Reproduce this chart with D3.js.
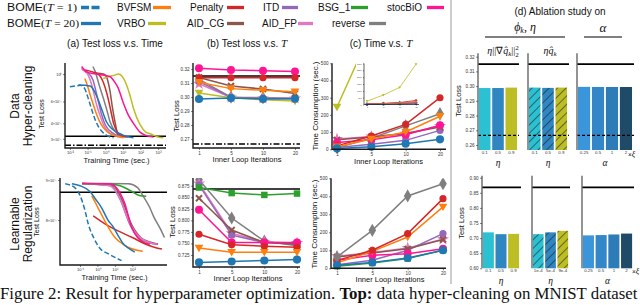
<!DOCTYPE html>
<html><head><meta charset="utf-8">
<script src="https://cdn.jsdelivr.net/npm/d3@7/dist/d3.min.js"></script>
<style>html,body{margin:0;padding:0;background:#fff;}svg{display:block;}</style>
</head><body>
<script>
// ================= DATA =================
const iterT = [1, 5, 10, 20];
const iterLabels = ["1", "5", "10", "20"];

// --- Data hyper-cleaning: test loss vs T ---
const hcLossBOME    = [0.2986, 0.2993, 0.2986, 0.2988];
const hcLossBVFSM   = [0.3105, 0.3060, 0.3048, 0.3038];
const hcLossVRBO    = [0.3029, 0.2995, 0.2980, 0.2972];
const hcLossPenalty = [0.3138, 0.3138, 0.3138, 0.3138];
const hcLossAIDCG   = [0.3140, 0.3079, 0.3057, 0.3026];
const hcLossITD     = [0.3110, 0.2998, 0.2990, 0.2990];
const hcLossAIDFP   = [0.3095, 0.2996, 0.2990, 0.2990];
const hcLossStocBiO = [0.3205, 0.3193, 0.3188, 0.3182];
const hcLossReverse = [0.3126, 0.2999, 0.2995, 0.2992];

// --- Data hyper-cleaning: time vs T ---
const hcTimeBOME    = [5, 15, 32, 58];
const hcTimeBVFSM   = [15, 60, 101, 192];
const hcTimeVRBO    = [246, 690, 1250, 2950];
const hcTimePenalty = [20, 77, 145, 300];
const hcTimeAIDCG   = [55, 72, 92, 130];
const hcTimeITD     = [10, 30, 52, 110];
const hcTimeAIDFP   = [60, 75, 90, 135];
const hcTimeStocBiO = [39, 56, 85, 140];
const hcTimeReverse = [10, 64, 136, 207];

// --- Learnable regularization: test loss vs T ---
const lrLossBOME    = [0.709, 0.711, 0.713, 0.715];
const lrLossBVFSM   = [0.740, 0.731, 0.731, 0.731];
const lrLossPenalty = [0.770, 0.747, 0.744, 0.742];
const lrLossAIDCG   = [0.848, 0.779, 0.752, 0.748];
const lrLossITD     = [0.877, 0.768, 0.752, 0.750];
const lrLossAIDFP   = [0.880, 0.772, 0.753, 0.751];
const lrLossBSG     = [0.871, 0.859, 0.855, 0.858];
const lrLossStocBiO = [0.823, 0.752, 0.752, 0.752];
const lrLossReverse = [0.888, 0.805, 0.755, 0.745];

// --- Learnable regularization: time vs T ---
const lrTimeBOME    = [17, 32, 57, 100];
const lrTimeBVFSM   = [30, 94, 174, 341];
const lrTimePenalty = [44, 100, 193, 387];
const lrTimeAIDCG   = [63, 85, 108, 160];
const lrTimeITD     = [20, 45, 100, 193];
const lrTimeAIDFP   = [67, 88, 113, 161];
const lrTimeBSG     = [12, 30, 55, 100];
const lrTimeStocBiO = [44, 72, 81, 109];
const lrTimeReverse = [63, 211, 402, 470];

// --- Test loss vs training time curves [time (s), loss] ---
const hcCurveBOME1   = [[0.01,0.79],[0.02,0.80],[0.04,0.81],[0.07,0.76],[0.1,0.66],[0.15,0.55],[0.25,0.44],[0.4,0.38],[0.7,0.34],[1.5,0.315],[3,0.306]];
const hcCurveBOME20  = [[0.03,0.815],[0.08,0.81],[0.14,0.80],[0.25,0.72],[0.4,0.62],[0.7,0.5],[1.2,0.41],[2.5,0.36],[7,0.33],[15,0.315],[40,0.306]];
const hcCurveBVFSM   = [[0.07,0.92],[0.1,0.8],[0.14,0.68],[0.2,0.58],[0.33,0.47],[0.6,0.39],[1.2,0.345],[3,0.32],[11,0.306]];
const hcCurveAIDFP   = [[0.045,1.11],[0.07,1.05],[0.1,1.0],[0.18,0.8],[0.33,0.56],[0.55,0.45],[0.8,0.39],[2,0.33],[7,0.31]];
const hcCurveITD     = [[0.05,1.08],[0.1,1.03],[0.2,0.9],[0.35,0.66],[0.6,0.48],[1,0.39],[3,0.33],[10,0.31]];
const hcCurveReverse = [[0.2,1.15],[0.27,1.05],[0.45,0.82],[0.78,0.64],[1.3,0.5],[1.9,0.41],[4,0.34],[7,0.32],[15,0.31]];
const hcCurveAIDCG   = [[0.3,1.02],[0.8,1.0],[1.2,0.95],[1.5,0.85],[1.9,0.72],[2.5,0.55],[3.6,0.41],[4.5,0.35],[5.5,0.31]];
const hcCurvePenalty = [[0.07,1.08],[0.15,1.05],[0.4,1.0],[0.8,0.85],[1.3,0.68],[2,0.52],[3,0.4],[5,0.34],[10,0.315],[20,0.31]];
const hcCurveStocBiO = [[0.046,1.15],[0.09,1.04],[0.2,1.01],[0.5,0.99],[1.9,0.95],[3.5,0.86],[5.5,0.77],[10,0.6],[20,0.47],[40,0.4],[95,0.34],[200,0.32],[540,0.31]];
const hcCurveVRBO    = [[0.78,0.92],[1.8,0.96],[3.6,0.98],[5.5,1.0],[9,0.96],[13.5,0.87],[25,0.68],[40,0.53],[95,0.39],[200,0.34],[355,0.33],[1000,0.31],[2000,0.306]];

const lrCurveBOME1   = [[0.014,0.89],[0.05,0.88],[0.1,0.86],[0.2,0.82],[0.3,0.79],[0.6,0.76],[1.4,0.736],[4,0.725],[10,0.717],[24,0.71]];
const lrCurveBOME20  = [[0.034,0.89],[0.1,0.885],[0.37,0.87],[0.8,0.85],[1.7,0.83],[4,0.80],[8,0.784],[15,0.765],[30,0.746],[70,0.735],[138,0.728]];
const lrCurveBVFSM   = [[0.47,0.859],[0.8,0.84],[1.4,0.82],[2.5,0.8],[5.1,0.777],[10,0.76],[19.5,0.75],[60,0.738],[400,0.73]];
const lrCurvePenalty = [[0.57,0.81],[3,0.79],[15,0.775],[100,0.76],[600,0.745],[2500,0.737],[5000,0.735]];
const lrCurveBSG     = [[0.13,0.891],[3,0.89],[20,0.885],[80,0.872],[250,0.86],[630,0.858]];
const lrCurveStocBiO = [[0.13,0.891],[5,0.89],[15,0.875],[37,0.84],[90,0.784],[200,0.76],[400,0.75],[1000,0.745]];
const lrCurveITD     = [[0.13,0.891],[6,0.885],[20,0.85],[72,0.79],[270,0.757],[1000,0.748],[3000,0.745]];
const lrCurveAIDFP   = [[0.13,0.891],[5,0.885],[18,0.855],[60,0.8],[200,0.765],[800,0.75],[2500,0.745]];
const lrCurveAIDCG   = [[0.13,0.891],[8,0.885],[25,0.85],[90,0.79],[300,0.76],[1000,0.75],[3000,0.745]];
const lrCurveReverse = [[0.13,0.891],[60,0.89],[200,0.88],[400,0.86],[1000,0.83],[1600,0.81],[4000,0.78],[7000,0.76]];

// reference lines
const hcBestLoss = 0.315, hcOptLoss = 0.2665, lrBestLoss = 0.868;

// axis ticks
const hcTimeTicks = [0.01, 0.1, 1, 10, 100, 1000];
const hcTimeTickLabels = ["10⁻²", "10⁻¹", "10⁰", "10¹", "10²", "10³"];
const hcLogLossTicks = [1, 0.6, 0.4, 0.3];
const hcLogLossTickLabels = ["10⁰", "6×10⁻¹", "4×10⁻¹", "3×10⁻¹"];
const lrTimeTicks = [0.1, 1, 10, 100];
const lrTimeTickLabels = ["10⁻¹", "10⁰", "10¹", "10²"];
const lrLogLossTicks = [0.9, 0.8];
const lrLogLossTickLabels = ["9×10⁻¹", "8×10⁻¹"];
const hcLossTicks = [0.27, 0.28, 0.29, 0.30, 0.31, 0.32];
const lrLossTicks = [0.725, 0.75, 0.775, 0.8, 0.825, 0.85, 0.875];
const timeTicks = [0, 100, 200, 300, 400, 500];
const insetTicks = [0, 500, 1000, 1500, 2000, 2500, 3000];

// ablation study
const ablEtaLabels = ["0.1", "0.5", "0.9"];
const ablEtaSmallLabels = ["1e-4", "5e-4", "9e-4"];
const ablAlphaLabels = ["0.25", "0.5", "1", "2"];
const hcAblGrad  = [0.2987, 0.2987, 0.2990];
const hcAblQ     = [0.2990, 0.2988, 0.2990];
const hcAblAlpha = [0.2995, 0.2994, 0.2994, 0.2994];
const lrAblGrad  = [0.719, 0.713, 0.714];
const lrAblQ     = [0.713, 0.719, 0.724];
const lrAblAlpha = [0.709, 0.710, 0.712, 0.715];
const hcAblTicks = [0.26, 0.27, 0.28, 0.29, 0.30, 0.31, 0.32];
const lrAblTicks = [0.60, 0.65, 0.70, 0.75, 0.80, 0.85, 0.90];

// ================= STYLE =================
const SANS = "'Liberation Sans', Arial, Helvetica, sans-serif";
const SERIF = "'Liberation Serif', 'Times New Roman', serif";
const C = {BOME:"#1f77b4", BVFSM:"#ff7f0e", VRBO:"#bcbd22", Penalty:"#d62728", AID_CG:"#8c564b",
           ITD:"#9467bd", AID_FP:"#e377c2", BSG_1:"#2ca02c", stocBiO:"#ff1493", reverse:"#7f7f7f"};
const SPINE = "#1a1a1a";
const triDown = {draw(ctx, size){ const s=Math.sqrt(size)*0.62; ctx.moveTo(-s,-s*0.75); ctx.lineTo(s,-s*0.75); ctx.lineTo(0,s*0.95); ctx.closePath(); }};
const xShape = {draw(ctx, size){ const r=Math.sqrt(size)*0.5, w=r*0.38;
  const pts=[[-r,-r+w],[-r+w,-r],[0,-w],[r-w,-r],[r,-r+w],[w,0],[r,r-w],[r-w,r],[0,w],[-r+w,r],[-r,r-w],[-w,0]];
  ctx.moveTo(pts[0][0],pts[0][1]); pts.slice(1).forEach(p=>ctx.lineTo(p[0],p[1])); ctx.closePath(); }};
const SYM = {BOME:d3.symbolCircle, BVFSM:triDown, VRBO:triDown, Penalty:d3.symbolCircle, AID_CG:xShape,
             ITD:d3.symbolCircle, AID_FP:d3.symbolStar, BSG_1:d3.symbolSquare, stocBiO:d3.symbolCircle, reverse:d3.symbolDiamond};
const SYMSIZE = {BOME:52, BVFSM:50, VRBO:50, Penalty:40, AID_CG:55, ITD:40, AID_FP:46, BSG_1:42, stocBiO:50, reverse:50};

const svg = d3.select("body").append("svg").attr("width", 640).attr("height", 305);
const defs = svg.append("defs");
let clipN = 0;
function clip(x0, y0, x1, y1){ const id = "cp" + (clipN++);
  defs.append("clipPath").attr("id", id).append("rect").attr("x", x0).attr("y", y0).attr("width", x1 - x0).attr("height", y1 - y0);
  return `url(#${id})`; }

function txt(g, x, y, s, fs, opt = {}){
  const t = g.append("text").attr("x", x).attr("y", y).attr("font-size", fs)
    .attr("font-family", opt.family || SANS).attr("fill", opt.fill || "#111")
    .attr("text-anchor", opt.anchor || "start").text(s);
  if (opt.rotate) t.attr("transform", `rotate(-90,${x},${y})`);
  if (opt.italic) t.attr("font-style", "italic");
  if (opt.weight) t.attr("font-weight", opt.weight);
  return t;
}
function spines(g, x0, x1, y0, y1, w = 1.4, color = SPINE){
  g.append("path").attr("d", `M${x0},${y0}V${y1}H${x1}`).attr("fill", "none").attr("stroke", color).attr("stroke-width", w);
}
function styleAxis(ag, fs){
  ag.select(".domain").remove();
  ag.selectAll("text").attr("font-size", fs).attr("font-family", SANS).attr("fill", "#333");
  ag.selectAll("line").attr("stroke", "#333").attr("stroke-width", 0.6);
}
function axisLeft(g, scale, x, vals, fmt, fs = 4.6, size = 2){
  const ag = g.append("g").attr("transform", `translate(${x},0)`)
    .call(d3.axisLeft(scale).tickValues(vals).tickFormat(fmt).tickSize(size).tickPadding(1.5));
  styleAxis(ag, fs); return ag;
}
function axisBottom(g, scale, y, vals, fmt, fs = 4.6, size = 2, pad = 1.5){
  const ag = g.append("g").attr("transform", `translate(0,${y})`)
    .call(d3.axisBottom(scale).tickValues(vals).tickFormat(fmt).tickSize(size).tickPadding(pad));
  styleAxis(ag, fs); return ag;
}

// ================= LEGEND =================
(function legend(){
  const g = svg.append("g");
  function entry(x, y, label, color, sx0, sx1, dashed, mathPart, fitW){
    const t = txt(g, x, y, label, 10);
    if (mathPart){
      t.append("tspan").attr("font-family", SERIF).text("(");
      t.append("tspan").attr("font-family", SERIF).attr("font-style", "italic").text("T");
      t.append("tspan").attr("font-family", SERIF).text(" = " + mathPart + ")");
      t.attr("textLength", fitW).attr("lengthAdjust", "spacingAndGlyphs");
    }
    const l = g.append("line").attr("x1", sx0).attr("x2", sx1).attr("y1", y - 3.5).attr("y2", y - 3.5)
      .attr("stroke", color).attr("stroke-width", 3.3);
    if (dashed) l.attr("stroke-dasharray", "8,2.5");
  }
  entry(7, 11, "BOME", C.BOME, 81, 101, true, "1", 70);
  entry(7, 27, "BOME", C.BOME, 81, 101, false, "20", 72);
  entry(117, 11, "BVFSM", C.BVFSM, 153, 171);
  entry(117, 27, "VRBO", C.VRBO, 148, 166);
  entry(190, 11, "Penalty", C.Penalty, 227, 244);
  entry(187, 27, "AID_CG", C.AID_CG, 227, 244);
  entry(263, 11, "ITD", C.ITD, 282, 298);
  entry(262, 27, "AID_FP", C.AID_FP, 298, 313);
  entry(318, 11, "BSG_1", C.BSG_1, 351, 368);
  entry(332, 27, "reverse", C.reverse, 369, 386);
  entry(387, 11, "stocBiO", C.stocBiO, 427, 444);

  txt(g, 115, 47, "(a) Test loss v.s. Time", 10, {anchor: "middle"});
  const tb = txt(g, 247, 47, "(b) Test loss v.s. ", 10, {anchor: "middle"});
  tb.append("tspan").attr("font-family", SERIF).attr("font-style", "italic").attr("font-size", 11).text("T");
  const tc = txt(g, 381, 47, "(c) Time v.s. ", 10, {anchor: "middle"});
  tc.append("tspan").attr("font-family", SERIF).attr("font-style", "italic").attr("font-size", 11).text("T");
})();

// row labels
function rowLabel(cy, l1, l2){
  const t = svg.append("text").attr("transform", `translate(19,${cy}) rotate(-90)`)
    .attr("text-anchor", "middle").attr("font-family", SANS).attr("font-size", 12).attr("fill", "#111");
  t.append("tspan").attr("x", 0).attr("y", 0).text(l1);
  t.append("tspan").attr("x", 0).attr("y", 13).text(l2);
}
rowLabel(106, "Data", "Hyper-cleaning");
rowLabel(224, "Learnable", "Regularization");

// ================= (a) loss vs time =================
function timePanel(p){
  const g = svg.append("g");
  const x = d3.scaleLog().domain(p.xDom).range([p.x0, p.x1]);
  const y = d3.scaleLog().domain(p.yDom).range([p.y1, p.y0]);
  const cp = clip(p.x0, p.y0 - 3, p.x1 + 1, p.y1);
  const inner = g.append("g").attr("clip-path", cp);
  inner.append("line").attr("x1", p.x0).attr("x2", p.x1).attr("y1", y(p.best)).attr("y2", y(p.best))
    .attr("stroke", "#000").attr("stroke-width", 1.6);
  if (p.opt) inner.append("line").attr("x1", p.x0).attr("x2", p.x1).attr("y1", y(p.opt)).attr("y2", y(p.opt))
    .attr("stroke", "#000").attr("stroke-width", 1.6).attr("stroke-dasharray", "6,2,1.5,2");
  const line = d3.line().x(d => x(d[0])).y(d => y(d[1])).curve(d3.curveMonotoneX);
  p.curves.forEach(c => {
    const path = inner.append("path").datum(c.pts).attr("d", line).attr("fill", "none")
      .attr("stroke", c.color).attr("stroke-width", 1.5).attr("stroke-linejoin", "round");
    if (c.dashed) path.attr("stroke-dasharray", "5,2.5");
  });
  axisBottom(g, x, p.y1, p.xTicks, (d, i) => p.xLabels[i], 4.2);
  axisLeft(g, y, p.x0, p.yTicks, (d, i) => p.yLabels[i], 3.8);
  spines(g, p.x0, p.x1, p.y0, p.y1);
  txt(g, (p.x0 + p.x1) / 2 + 1, p.xlabY, "Training Time (sec.)", 7.5, {anchor: "middle"});
  txt(g, p.ylabX, p.ylabY, "Test Loss", 7, {anchor: "middle", rotate: true});
}

timePanel({x0: 65, x1: 166, y0: 63, y1: 148, xDom: [Math.pow(10, -2.28), Math.pow(10, 3.45)], yDom: [0.253, 1.227],
  best: hcBestLoss, opt: hcOptLoss, xTicks: hcTimeTicks, xLabels: hcTimeTickLabels,
  yTicks: hcLogLossTicks, yLabels: hcLogLossTickLabels, xlabY: 163, ylabX: 44, ylabY: 114,
  curves: [
    {pts: hcCurveReverse, color: C.reverse}, {pts: hcCurveAIDCG, color: C.AID_CG},
    {pts: hcCurveITD, color: C.ITD}, {pts: hcCurveAIDFP, color: C.AID_FP},
    {pts: hcCurvePenalty, color: C.Penalty}, {pts: hcCurveVRBO, color: C.VRBO},
    {pts: hcCurveStocBiO, color: C.stocBiO}, {pts: hcCurveBVFSM, color: C.BVFSM},
    {pts: hcCurveBOME20, color: C.BOME}, {pts: hcCurveBOME1, color: C.BOME, dashed: true}]});

timePanel({x0: 60, x1: 167, y0: 178, y1: 265, xDom: [Math.pow(10, -2.15), Math.pow(10, 3.99)], yDom: [0.701, 0.9053],
  best: lrBestLoss, xTicks: lrTimeTicks, xLabels: lrTimeTickLabels,
  yTicks: lrLogLossTicks, yLabels: lrLogLossTickLabels, xlabY: 280, ylabX: 39, ylabY: 222,
  curves: [
    {pts: lrCurveReverse, color: C.reverse}, {pts: lrCurveAIDCG, color: C.AID_CG},
    {pts: lrCurveITD, color: C.ITD}, {pts: lrCurveAIDFP, color: C.AID_FP},
    {pts: lrCurveBSG, color: C.BSG_1}, {pts: lrCurveStocBiO, color: C.stocBiO},
    {pts: lrCurvePenalty, color: C.Penalty}, {pts: lrCurveBVFSM, color: C.BVFSM},
    {pts: lrCurveBOME20, color: C.BOME}, {pts: lrCurveBOME1, color: C.BOME, dashed: true}]});

// ================= (b)/(c) vs T =================
function iterPanel(p){
  const g = svg.append("g");
  const x = d3.scalePoint().domain(iterT).range([p.px0, p.px1]);
  const y = d3.scaleLinear().domain(p.yDom).range([p.y1, p.y0]);
  const inner = g.append("g").attr("clip-path", clip(p.x0, p.y0, p.x1 + 6, p.y1 + 6));
  if (p.best != null) inner.append("line").attr("x1", p.x0).attr("x2", p.x1).attr("y1", y(p.best)).attr("y2", y(p.best))
    .attr("stroke", "#000").attr("stroke-width", 1.6);
  if (p.opt != null) inner.append("line").attr("x1", p.x0).attr("x2", p.x1).attr("y1", y(p.opt)).attr("y2", y(p.opt))
    .attr("stroke", "#000").attr("stroke-width", 1.6).attr("stroke-dasharray", "6,2,1.5,2");
  const line = d3.line().x((d, i) => x(iterT[i])).y(d => y(d));
  p.series.forEach(s => {
    inner.append("path").datum(s.vals).attr("d", line).attr("fill", "none").attr("stroke", C[s.name]).attr("stroke-width", 1.5);
    inner.selectAll(null).data(s.vals).join("path")
      .attr("transform", (d, i) => `translate(${x(iterT[i])},${y(d)})`)
      .attr("d", d3.symbol(SYM[s.name], SYMSIZE[s.name] * (p.msc || 1))).attr("fill", C[s.name]);
  });
  axisBottom(g, x, p.y1, iterT, (d, i) => iterLabels[i], 4.6);
  axisLeft(g, y, p.x0, p.yTicks, p.yFmt, 4.6);
  spines(g, p.x0, p.x1, p.y0, p.y1);
  txt(g, (p.px0 + p.px1) / 2, p.xlabY, "Inner Loop Iterations", 7.5, {anchor: "middle"});
  txt(g, p.ylabX, p.ylabY, p.ylab, p.ylabFs, {anchor: "middle", rotate: true});
  return {g, x, y};
}

const hcLossSeries = [
  {name: "reverse", vals: hcLossReverse}, {name: "AID_FP", vals: hcLossAIDFP}, {name: "ITD", vals: hcLossITD},
  {name: "AID_CG", vals: hcLossAIDCG}, {name: "stocBiO", vals: hcLossStocBiO}, {name: "Penalty", vals: hcLossPenalty},
  {name: "VRBO", vals: hcLossVRBO}, {name: "BVFSM", vals: hcLossBVFSM}, {name: "BOME", vals: hcLossBOME}];
const hcTimeSeries = [
  {name: "reverse", vals: hcTimeReverse}, {name: "AID_FP", vals: hcTimeAIDFP}, {name: "ITD", vals: hcTimeITD},
  {name: "AID_CG", vals: hcTimeAIDCG}, {name: "stocBiO", vals: hcTimeStocBiO}, {name: "Penalty", vals: hcTimePenalty},
  {name: "VRBO", vals: hcTimeVRBO}, {name: "BVFSM", vals: hcTimeBVFSM}, {name: "BOME", vals: hcTimeBOME}];
const lrLossSeries = [
  {name: "reverse", vals: lrLossReverse}, {name: "AID_FP", vals: lrLossAIDFP}, {name: "ITD", vals: lrLossITD},
  {name: "AID_CG", vals: lrLossAIDCG}, {name: "stocBiO", vals: lrLossStocBiO}, {name: "Penalty", vals: lrLossPenalty},
  {name: "BVFSM", vals: lrLossBVFSM}, {name: "BSG_1", vals: lrLossBSG}, {name: "BOME", vals: lrLossBOME}];
const lrTimeSeries = [
  {name: "AID_FP", vals: lrTimeAIDFP}, {name: "ITD", vals: lrTimeITD}, {name: "AID_CG", vals: lrTimeAIDCG},
  {name: "stocBiO", vals: lrTimeStocBiO}, {name: "BVFSM", vals: lrTimeBVFSM}, {name: "Penalty", vals: lrTimePenalty},
  {name: "reverse", vals: lrTimeReverse}, {name: "BSG_1", vals: lrTimeBSG}, {name: "BOME", vals: lrTimeBOME}];

iterPanel({x0: 193, x1: 300, px0: 199, px1: 295, y0: 63, y1: 148, yDom: [0.2636, 0.3243], best: hcBestLoss, opt: hcOptLoss,
  yTicks: hcLossTicks, yFmt: d3.format(".2f"), series: hcLossSeries, xlabY: 162, ylabX: 179, ylabY: 116, ylab: "Test Loss", ylabFs: 7.5});
iterPanel({x0: 332, x1: 446, px0: 337, px1: 440, y0: 63.3, y1: 149.3, yDom: [0, 500],
  yTicks: timeTicks, yFmt: d3.format("d"), series: hcTimeSeries, xlabY: 164, ylabX: 318, ylabY: 106,
  ylab: "Time Consumption (sec.)", ylabFs: 8});
iterPanel({x0: 193, x1: 300, px0: 199, px1: 297, y0: 178, y1: 267, yDom: [0.699, 0.8917], best: lrBestLoss,
  yTicks: lrLossTicks, yFmt: d3.format(".3f"), series: lrLossSeries, xlabY: 281, ylabX: 175, ylabY: 222, ylab: "Test Loss", ylabFs: 7.5});
iterPanel({x0: 331, x1: 446, px0: 337, px1: 443, y0: 178.3, y1: 268.3, yDom: [0, 500],
  yTicks: timeTicks, yFmt: d3.format("d"), series: lrTimeSeries, xlabY: 282, ylabX: 317, ylabY: 224,
  ylab: "Time Consumption (sec.)", ylabFs: 8});

// inset in (c) top
(function inset(){
  const g = svg.append("g");
  const x0 = 364, x1 = 419, y0 = 63.5, y1 = 104.5;
  g.append("rect").attr("x", 356).attr("y", 60).attr("width", 64).attr("height", 48).attr("fill", "#fff");
  const x = d3.scalePoint().domain(iterT).range([367, 416]);
  const y = d3.scaleLinear().domain([0, 3000]).range([y1, y0]);
  const line = d3.line().x((d, i) => x(iterT[i])).y(d => y(d));
  hcTimeSeries.forEach(s => {
    g.append("path").datum(s.vals).attr("d", line).attr("fill", "none").attr("stroke", C[s.name]).attr("stroke-width", 0.8);
    g.selectAll(null).data(s.vals).join("path").attr("transform", (d, i) => `translate(${x(iterT[i])},${y(d)})`)
      .attr("d", d3.symbol(SYM[s.name], 5)).attr("fill", C[s.name]);
  });
  axisLeft(g, y, x0, insetTicks, d3.format("d"), 2, 1);
  axisBottom(g, x, y1, iterT, (d, i) => iterLabels[i], 2, 1);
  spines(g, x0, x1, y0, y1, 0.7);
})();

// ================= (d) ablation =================
svg.append("line").attr("x1", 451).attr("x2", 451).attr("y1", 0).attr("y2", 284).attr("stroke", "#999").attr("stroke-width", 1);

function hatch(color){
  const id = "h" + color.replace("#", "");
  if (!defs.select("#" + id).empty()) return `url(#${id})`;
  const pat = defs.append("pattern").attr("id", id).attr("patternUnits", "userSpaceOnUse")
    .attr("width", 6).attr("height", 6).attr("patternTransform", "rotate(45)");
  pat.append("rect").attr("width", 6).attr("height", 6).attr("fill", color);
  pat.append("line").attr("x1", 0).attr("x2", 0).attr("y1", 0).attr("y2", 6).attr("stroke", "#1a1a1a").attr("stroke-width", 1.1);
  return `url(#${id})`;
}
const ablColors3 = ["#2cc0d3", "#2f86c0", "#bdbe25"];
const ablColors4 = ["#3a95da", "#3387c8", "#2d7cb7", "#1f4a68"];

function ablRow(p){
  const g = svg.append("g");
  const y = d3.scaleLinear().domain(p.yDom).range([p.y1, p.y0]);
  p.subs.forEach((s, si) => {
    const x = d3.scaleBand().domain(s.labels).range([s.x0, s.x1]).paddingInner(0.13).paddingOuter(0.07);
    g.selectAll(null).data(s.vals).join("rect")
      .attr("x", (d, i) => x(s.labels[i])).attr("width", x.bandwidth())
      .attr("y", d => y(d)).attr("height", d => y(p.yDom[0]) - y(d))
      .attr("fill", (d, i) => s.hatched ? hatch(s.colors[i]) : s.colors[i]);
    g.append("line").attr("x1", s.x0).attr("x2", s.x1 + 1).attr("y1", y(p.best)).attr("y2", y(p.best))
      .attr("stroke", "#000").attr("stroke-width", 1.8);
    if (p.opt != null) g.append("line").attr("x1", s.x0).attr("x2", s.x1 + 1).attr("y1", y(p.opt)).attr("y2", y(p.opt))
      .attr("stroke", "#000").attr("stroke-width", 1.3).attr("stroke-dasharray", "3,2");
    axisBottom(g, x, p.y1, s.labels, d => d, 4.4, 0, 0.8);
    g.append("line").attr("x1", s.x0).attr("x2", s.x0).attr("y1", p.y0).attr("y2", p.y1).attr("stroke", "#666").attr("stroke-width", 1.4);
    if (si === 0) axisLeft(g, y, s.x0, p.ticks, d3.format(".2f"), 4.6);
    txt(g, (s.x0 + s.x1) / 2, p.symY, s.sym, 9.5, {anchor: "middle", family: SERIF, italic: true});
  });
  const xi = txt(g, p.xiX, p.xiY, "×", 6.5, {});
  xi.append("tspan").attr("font-family", SERIF).attr("font-style", "italic").attr("font-size", 8).text("ξ");
  txt(g, p.ylabX, p.ylabY, "Test Loss", 7.5, {anchor: "middle", rotate: true});
}

ablRow({y0: 53.3, y1: 150, yDom: [0.2566, 0.3223], ticks: hcAblTicks, best: hcBestLoss, opt: hcOptLoss,
  symY: 166, xiX: 628, xiY: 157, ylabX: 461, ylabY: 101,
  subs: [
    {x0: 478, x1: 518, labels: ablEtaLabels, vals: hcAblGrad, colors: ablColors3, sym: "η"},
    {x0: 528, x1: 568, labels: ablEtaLabels, vals: hcAblQ, colors: ablColors3, hatched: true, sym: "η"},
    {x0: 577, x1: 633, labels: ablAlphaLabels, vals: hcAblAlpha, colors: ablColors4, sym: "α"}]});
ablRow({y0: 175.7, y1: 268.3, yDom: [0.60, 0.9066], ticks: lrAblTicks, best: lrBestLoss,
  symY: 283.5, xiX: 632, xiY: 274, ylabX: 464, ylabY: 223,
  subs: [
    {x0: 482, x1: 520, labels: ablEtaLabels, vals: lrAblGrad, colors: ablColors3, sym: "η"},
    {x0: 532, x1: 569, labels: ablEtaSmallLabels, vals: lrAblQ, colors: ablColors3, hatched: true, sym: "η"},
    {x0: 582, x1: 633, labels: ablAlphaLabels, vals: lrAblAlpha, colors: ablColors4, sym: "α"}]});

// (d) headers
(function dHeader(){
  const g = svg.append("g");
  txt(g, 560, 15, "(d)  Ablation study on", 10, {anchor: "middle"});
  const t = txt(g, 525, 31, "", 12, {anchor: "middle", family: SERIF});
  t.append("tspan").attr("font-style", "italic").text("ϕ");
  t.append("tspan").attr("font-style", "italic").attr("font-size", 8).attr("dy", 2).text("k");
  t.append("tspan").attr("dy", -2).text(",    ");
  t.append("tspan").attr("font-style", "italic").text("η");
  g.append("line").attr("x1", 485).attr("x2", 565).attr("y1", 37).attr("y2", 37).attr("stroke", "#000").attr("stroke-width", 1.2);
  txt(g, 603, 32, "α", 13, {anchor: "middle", family: SERIF, italic: true});
  g.append("line").attr("x1", 584).attr("x2", 622).attr("y1", 37).attr("y2", 37).attr("stroke", "#000").attr("stroke-width", 1.2);
  const a = txt(g, 503, 54, "", 10, {anchor: "middle", family: SERIF});
  a.append("tspan").attr("font-style", "italic").text("η");
  a.append("tspan").text("||∇");
  a.append("tspan").attr("font-style", "italic").text("q\u0302");
  a.append("tspan").attr("font-style", "italic").attr("font-size", 7).attr("dy", 2).text("k");
  a.append("tspan").attr("dy", -2).text("||");
  a.append("tspan").attr("font-size", 7).attr("dy", -4).text("2");
  a.append("tspan").attr("font-size", 7).attr("dx", -3.5).attr("dy", 6.5).text("2");
  const b = txt(g, 550, 54, "", 10, {anchor: "middle", family: SERIF});
  b.append("tspan").attr("font-style", "italic").text("η");
  b.append("tspan").attr("font-style", "italic").text("q\u0302");
  b.append("tspan").attr("font-style", "italic").attr("font-size", 7).attr("dy", 2).text("k");
})();

// ================= caption =================
(function caption(){
  const t = svg.append("text").attr("x", 0).attr("y", 299).attr("font-family", SERIF).attr("font-size", 16).attr("fill", "#111");
  t.append("tspan").text("Figure 2: Result for hyperparameter optimization. ");
  t.append("tspan").attr("font-weight", "bold").text("Top:");
  t.append("tspan").text(" data hyper-cleaning on MNIST dataset");
  const w = t.node().getComputedTextLength();
  t.attr("font-size", 16 * 638 / w);
})();
</script>
</body></html>
